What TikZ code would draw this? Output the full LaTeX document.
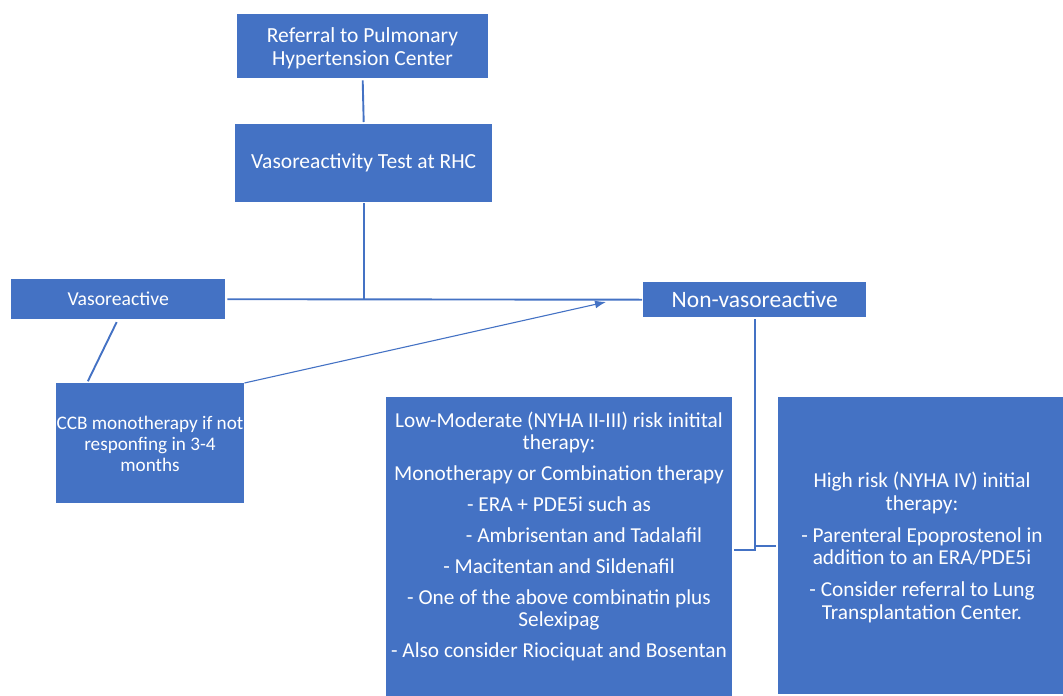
\documentclass[tikz,border=0pt]{standalone}
\usepackage{fontspec}
\setmainfont{Carlito}
\usetikzlibrary{arrows.meta,calc}
\definecolor{boxblue}{RGB}{68,114,196}
\definecolor{lineblue}{RGB}{68,114,196}
\tikzset{
  bluebox/.style={fill=boxblue, text=white, inner sep=0pt, anchor=north west, align=center},
  boxtext/.style={text=white, inner sep=0pt, align=center},
  conn/.style={draw=lineblue, line width=1.9pt},
  thinarrow/.style={draw=lineblue, line width=1.1pt, -{Latex[length=11pt,width=8pt]}}
}
\begin{document}
\begin{tikzpicture}[x=1pt,y=-1pt]
\useasboundingbox (0,0) rectangle (1063,696);
% boxes
\node[bluebox, minimum width=251pt, minimum height=64pt] (ref) at (237,14) {};
\node[boxtext, font=\fontsize{21.5}{23}\selectfont] (reftext) at (362.5,48) {Referral to Pulmonary\\Hypertension Center};
\node[bluebox, minimum width=257pt, minimum height=78pt, font=\fontsize{21.5}{23}\selectfont] (test) at (235,124) {Vasoreactivity Test at RHC};
\node[bluebox, minimum width=214pt, minimum height=40pt, font=\fontsize{19.7}{22}\selectfont] (vaso) at (11,279) {Vasoreactive};
\node[bluebox, minimum width=223pt, minimum height=35pt, font=\fontsize{23.5}{26}\selectfont] (nonvaso) at (643,282) {Non-vasoreactive};
\node[bluebox, minimum width=188pt, minimum height=120pt] (ccb) at (56,383) {};
\node[boxtext, font=\fontsize{19.2}{21}\selectfont] (ccbtext) at (150,444) {CCB monotherapy if not\\responfing in 3-4\\months};
\node[bluebox, minimum width=346pt, minimum height=300pt] (low) at (386,397) {};
\node[boxtext, font=\fontsize{21.3}{22}\selectfont, anchor=north] (lowtext) at (559,412) {Low-Moderate (NYHA II-III) risk initital\\therapy:\\[9pt]
Monotherapy or Combination therapy\\[9pt]
- ERA + PDE5i such as\\[9pt]
\hspace*{50pt}- Ambrisentan and Tadalafil\\[9pt]
- Macitentan and Sildenafil\\[9pt]
- One of the above combinatin plus\\Selexipag\\[9pt]
- Also consider Riociquat and Bosentan};
\node[bluebox, minimum width=285pt, minimum height=297pt] (high) at (778,397) {};
\node[boxtext, font=\fontsize{21.3}{22.5}\selectfont, anchor=north] (hightext) at (922,472) {High risk (NYHA IV) initial\\therapy:\\[9.5pt]
- Parenteral Epoprostenol in\\addition to an ERA/PDE5i\\[9.5pt]
- Consider referral to Lung\\Transplantation Center.};
% connectors
\coordinate (jn) at (test.south |- vaso.east);
\coordinate (elbow) at ([yshift=-233pt]nonvaso.south);
\coordinate (elbowr) at ([yshift=-229pt]nonvaso.south);
\draw[conn] ([yshift=-2pt]ref.south) -- ([yshift=2pt]test.north);
\draw[conn] ([yshift=-1pt]test.south) -- (jn);
\draw[conn] ([xshift=2pt]vaso.east) -- ([xshift=-1pt]nonvaso.west);
\draw[conn, shorten <=3pt, shorten >=2pt] ([xshift=107pt]vaso.south west) -- ([xshift=31pt]ccb.north west);
\draw[thinarrow] (ccb.north east) -- (606,302);
\draw[conn] ([yshift=-2pt]nonvaso.south) -- (elbow) -- ([xshift=2pt]low.east |- elbow);
\draw[conn] (elbowr) -- ([xshift=-2pt]high.west |- elbowr);
\end{tikzpicture}
\end{document}
